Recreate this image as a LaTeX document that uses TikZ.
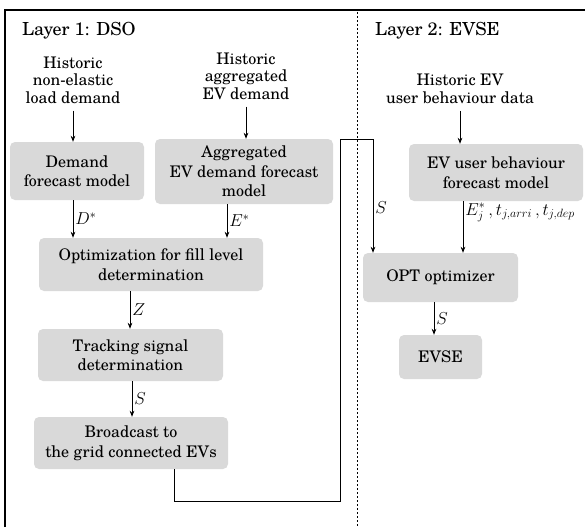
\documentclass[tikz,border=0pt]{standalone}
\usepackage{fontspec}
\setmainfont{texgyreschola-regular.otf}[
  ItalicFont=texgyreschola-italic.otf, BoldFont=texgyreschola-bold.otf]
\usetikzlibrary{arrows.meta}

\tikzset{
  proc/.style={fill=black!15, rounded corners=5pt, align=center,
    inner sep=0pt, font=\fontsize{16}{19.5}\selectfont},
  plain/.style={align=center, inner sep=0pt, font=\fontsize{16}{17.5}\selectfont},
  title/.style={anchor=west, inner sep=0pt, font=\fontsize{18}{20}\selectfont},
  arr/.style={line width=0.9pt, -{Stealth[length=6pt,width=4.6pt]}},
  lab/.style={right, inner sep=2pt, font=\fontsize{17}{19}\selectfont},
  frame/.style={line width=1.6pt},
  divider/.style={line width=0.8pt, dash pattern=on 2.2pt off 1.8pt}
}

\begin{document}
\begin{tikzpicture}[x=1pt, y=-1pt]
  \useasboundingbox (0,0) rectangle (585,527);

  % outer frame and layer divider
  \draw[frame] (5,527) -- (5,10) -- (585,10);
  \draw[divider] (357,12) -- (357,527);

  \node[title] (t1) at (22,31) {Layer 1: DSO};
  \node[title] (t2) at (375,31) {Layer 2: EVSE};

  % Layer 1
  \node[plain] (h1) at (73,80) {Historic\\non-elastic\\load demand};
  \node[plain] (h2) at (246,76) {Historic\\aggregated\\EV demand};

  \node[proc, minimum width=134pt, minimum height=58pt] (dfm) at (77,171)
    {Demand\\forecast model};
  \node[proc, minimum width=178pt, minimum height=65pt] (aefm) at (244,171.5)
    {Aggregated\\EV demand forecast\\model};
  \node[proc, minimum width=224pt, minimum height=53pt] (opt) at (151,264.5)
    {Optimization for fill level\\determination};
  \node[proc, minimum width=185pt, minimum height=52pt] (tsd) at (130.5,355)
    {Tracking signal\\determination};
  \node[proc, minimum width=194pt, minimum height=52pt] (bc) at (131,443)
    {Broadcast to\\the grid connected EVs};

  % Layer 2
  \node[plain] (h3) at (460,89) {Historic EV\\user behaviour data};
  \node[proc, minimum width=174pt, minimum height=57pt] (evub) at (496,172.5)
    {EV user behaviour\\forecast model};
  \node[proc, minimum width=155pt, minimum height=49pt] (optz) at (440.5,277.5)
    {OPT optimizer};
  \node[proc, minimum width=83pt, minimum height=44pt] (evse) at (440.5,357)
    {EVSE};

  % connectors in layer 1
  \draw[arr] ([yshift=-7pt]h1.south) -- (h1.south |- dfm.north);
  \draw[arr] ([yshift=-7pt]h2.south) -- (h2.south |- aefm.north);
  \draw[arr] ([xshift=-4pt]dfm.south) -- ([xshift=-4pt]dfm.south |- opt.north)
    node[lab, midway] {$D^*$};
  \draw[arr] ([xshift=-17pt]aefm.south) -- ([xshift=-17pt]aefm.south |- opt.north)
    node[lab, midway] {$E^*$};
  \draw[arr] ([xshift=-21pt]opt.south) -- ([xshift=-21pt]opt.south |- tsd.north)
    node[lab, midway] {$Z$};
  \draw[arr] ([xshift=1.5pt]tsd.south) -- ([xshift=1.5pt]tsd.south |- bc.north)
    node[lab, midway] {$S$};

  % broadcast signal passed over to the EVSE optimizer
  \coordinate (turnA) at (340,501);
  \coordinate (turnB) at (340,139);
  \coordinate (turnC) at (373,139);
  \draw[arr] ([xshift=43pt]bc.south) |- (turnA) -- (turnB) -- (turnC)
    -- (turnC |- optz.north) node[lab, pos=0.6] {$S$};

  % connectors in layer 2
  \draw[arr] ([yshift=-7pt]h3.south) -- (h3.south |- evub.north);
  \draw[arr] ([xshift=-33pt]evub.south) -- ([xshift=-33pt]evub.south |- optz.north)
    node[lab, pos=0.22, font=\fontsize{18}{20}\selectfont]
    {$E_j^*\,, t_{j,arri}\,, t_{j,dep}$};
  \draw[arr] ([xshift=-6.5pt]optz.south) -- ([xshift=-6.5pt]optz.south |- evse.north)
    node[lab, midway] {$S$};
\end{tikzpicture}
\end{document}
